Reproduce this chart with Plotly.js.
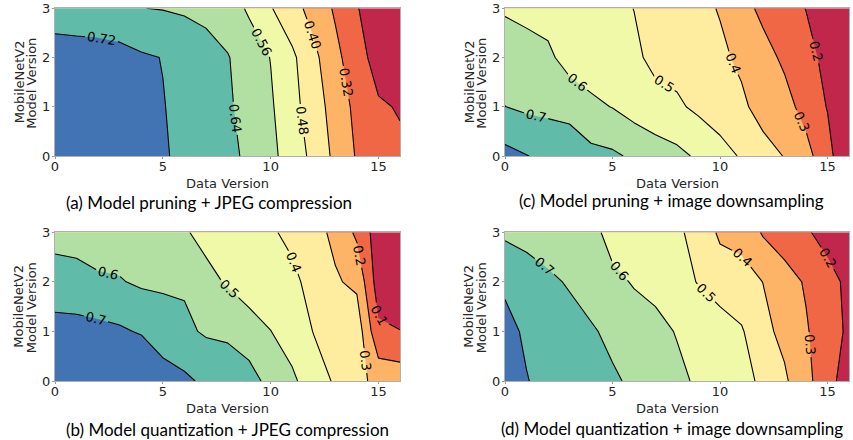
<!DOCTYPE html>
<html>
<head>
<meta charset="utf-8">
<script src="https://cdn.plot.ly/plotly-3.0.1.min.js"></script>
<style>html,body{margin:0;padding:0;background:#fff;}#chart{width:853px;height:440px;}</style>
</head>
<body>
<div id="chart"></div>
<script>
// ---- data ----
const dataVersions = [0,1,2,3,4,5,6,7,8,9,10,11,12,13,14,15,16];
const modelVersions = [0,1,2,3];

// (a) Model pruning + JPEG compression  (rows: model version 0..3)
const accPruneJpeg = [
  [0.760,0.758,0.755,0.750,0.740,0.727,0.705,0.685,0.660,0.625,0.580,0.523,0.459,0.381,0.313,0.280,0.255],
  [0.755,0.753,0.750,0.745,0.735,0.723,0.700,0.680,0.652,0.610,0.570,0.505,0.440,0.365,0.300,0.250,0.234],
  [0.750,0.748,0.745,0.740,0.730,0.718,0.700,0.680,0.645,0.600,0.558,0.495,0.420,0.340,0.275,0.205,0.185],
  [0.688,0.684,0.683,0.676,0.641,0.637,0.629,0.613,0.595,0.550,0.485,0.430,0.370,0.310,0.245,0.190,0.170]
];
// (c) Model pruning + image downsampling
const accPruneDown = [
  [0.830,0.803,0.779,0.765,0.728,0.716,0.684,0.655,0.625,0.585,0.540,0.490,0.430,0.397,0.330,0.240,0.090],
  [0.701,0.683,0.675,0.665,0.620,0.597,0.560,0.527,0.515,0.480,0.445,0.415,0.370,0.330,0.270,0.195,0.160],
  [0.655,0.640,0.620,0.560,0.549,0.535,0.515,0.480,0.465,0.440,0.415,0.385,0.330,0.285,0.230,0.175,0.150],
  [0.589,0.573,0.561,0.550,0.535,0.520,0.499,0.480,0.455,0.420,0.395,0.330,0.280,0.240,0.198,0.160,0.140]
];
// (b) Model quantization + JPEG compression
const accQuantJpeg = [
  [0.830,0.830,0.830,0.825,0.820,0.740,0.720,0.680,0.650,0.625,0.580,0.520,0.440,0.390,0.330,0.270,0.260],
  [0.738,0.737,0.729,0.714,0.691,0.655,0.618,0.589,0.585,0.565,0.502,0.450,0.397,0.385,0.360,0.1185,0.102],
  [0.640,0.630,0.612,0.606,0.586,0.583,0.589,0.530,0.490,0.430,0.425,0.420,0.370,0.310,0.280,0.050,0.040],
  [0.569,0.567,0.558,0.555,0.540,0.525,0.510,0.470,0.450,0.430,0.410,0.380,0.330,0.280,0.180,0.050,0.040]
];
// (d) Model quantization + image downsampling
const accQuantDown = [
  [0.830,0.803,0.780,0.760,0.735,0.712,0.685,0.655,0.620,0.587,0.555,0.525,0.485,0.415,0.330,0.235,0.150],
  [0.820,0.790,0.765,0.740,0.710,0.680,0.650,0.625,0.595,0.565,0.535,0.510,0.425,0.375,0.310,0.240,0.185],
  [0.789,0.755,0.720,0.690,0.660,0.625,0.592,0.575,0.535,0.495,0.465,0.435,0.399,0.340,0.290,0.230,0.180],
  [0.682,0.663,0.645,0.642,0.635,0.560,0.545,0.530,0.510,0.480,0.380,0.370,0.290,0.250,0.210,0.170,0.130]
];

const captions = [
  "(a) Model pruning + JPEG compression",
  "(b) Model quantization + JPEG compression",
  "(c) Model pruning + image downsampling",
  "(d) Model quantization + image downsampling"
];
const xTitle = "Data Version";
const yTitleLines = ["MobileNetV2", "Model Version"];

// Spectral colours of the 8 filled bands (low -> high)
const bandColors = ["#c0274a","#f06745","#fdb466","#feec9f","#eff9a7","#b2e0a3","#60bba8","#4273b3"];
const stepScale = [];
bandColors.forEach((c,i)=>{ stepScale.push([i/8,c]); stepScale.push([(i+1)/8,c]); });

function contourTrace(z, xa, ya, start, size, fmt) {
  return {
    type: 'contour', x: dataVersions, y: modelVersions, z: z,
    xaxis: xa, yaxis: ya,
    autocontour: false,
    contours: {start: start, end: start + 6*size + size*0.01, size: size, coloring: 'fill',
      showlabels: true, labelformat: fmt,
      labelfont: {family: 'DejaVu Sans, sans-serif', size: 13, color: '#000'}},
    colorscale: stepScale, showscale: false,
    line: {color: '#000', width: 1.1, smoothing: 0},
    hoverinfo: 'skip'
  };
}

const traces = [
  contourTrace(accPruneJpeg, 'x', 'y', 0.24, 0.08, '.2f'),
  contourTrace(accPruneDown, 'x2', 'y2', 0.2, 0.1, '.1f'),
  contourTrace(accQuantJpeg, 'x3', 'y3', 0.1, 0.1, '.1f'),
  contourTrace(accQuantDown, 'x4', 'y4', 0.2, 0.1, '.1f')
];

const W = 853, H = 440;
const px = v => v / W, py = v => 1 - v / H;
const tickFont = {family: 'DejaVu Sans, sans-serif', size: 13, color: '#262626'};
const titleFont = {family: 'DejaVu Sans, sans-serif', size: 13, color: '#262626'};

function xAxis(l, r, anchor) {
  return {domain: [px(l), px(r)], anchor: anchor, range: [0,16], tickvals: [0,5,10,15],
    ticks: 'outside', ticklen: 2, tickcolor: '#999', tickfont: tickFont, ticklabelstandoff: -4,
    showline: true, mirror: true, linecolor: '#b0b0b0', linewidth: 1, showgrid: false, zeroline: false};
}
function yAxis(t, b, anchor) {
  return {domain: [py(b), py(t)], anchor: anchor, range: [0,3], tickvals: [0,1,2,3],
    ticks: 'outside', ticklen: 2, tickcolor: '#999', tickfont: tickFont, ticklabelstandoff: -1,
    showline: true, mirror: true, linecolor: '#b0b0b0', linewidth: 1, showgrid: false, zeroline: false};
}

const capFont = {family: 'Lato, "Open Sans", sans-serif', size: 17, color: '#000'};
function ann(text, x, y, font, angle) {
  return {text: text, x: px(x), y: py(y), xref: 'paper', yref: 'paper', showarrow: false,
    xanchor: 'center', yanchor: 'middle', font: font, textangle: angle || 0};
}
const panels = [
  {l: 55, r: 400, t: 8.3, b: 156},
  {l: 55, r: 400, t: 232.3, b: 381},
  {l: 505, r: 849, t: 8.3, b: 156},
  {l: 505, r: 849, t: 232.3, b: 381}
];
const capPos = [[209, 202], [227.5, 429], [671.5, 200.5], [672, 428]];
const annotations = [];
panels.forEach((p, i) => {
  const cx = (p.l + p.r) / 2, cy = (p.t + p.b) / 2;
  annotations.push(ann(xTitle, cx, p.b + 27, titleFont));
  annotations.push(ann(yTitleLines[0], p.l - 36, cy, titleFont, -90));
  annotations.push(ann(yTitleLines[1], p.l - 23.5, cy + 1, titleFont, -90));
  annotations.push(ann(captions[i], capPos[i][0], capPos[i][1], capFont));
});

const layout = {
  width: W, height: H, margin: {l: 0, r: 0, t: 0, b: 0},
  paper_bgcolor: '#fff', plot_bgcolor: '#fff', showlegend: false,
  xaxis: xAxis(55, 400, 'y'), yaxis: yAxis(8.3, 156, 'x'),
  xaxis3: xAxis(55, 400, 'y3'), yaxis3: yAxis(232.3, 381, 'x3'),
  xaxis2: xAxis(505, 849, 'y2'), yaxis2: yAxis(8.3, 156, 'x2'),
  xaxis4: xAxis(505, 849, 'y4'), yaxis4: yAxis(232.3, 381, 'x4'),
  annotations: annotations
};

Plotly.newPlot('chart', traces, layout, {staticPlot: true, displayModeBar: false});
</script>
</body>
</html>
